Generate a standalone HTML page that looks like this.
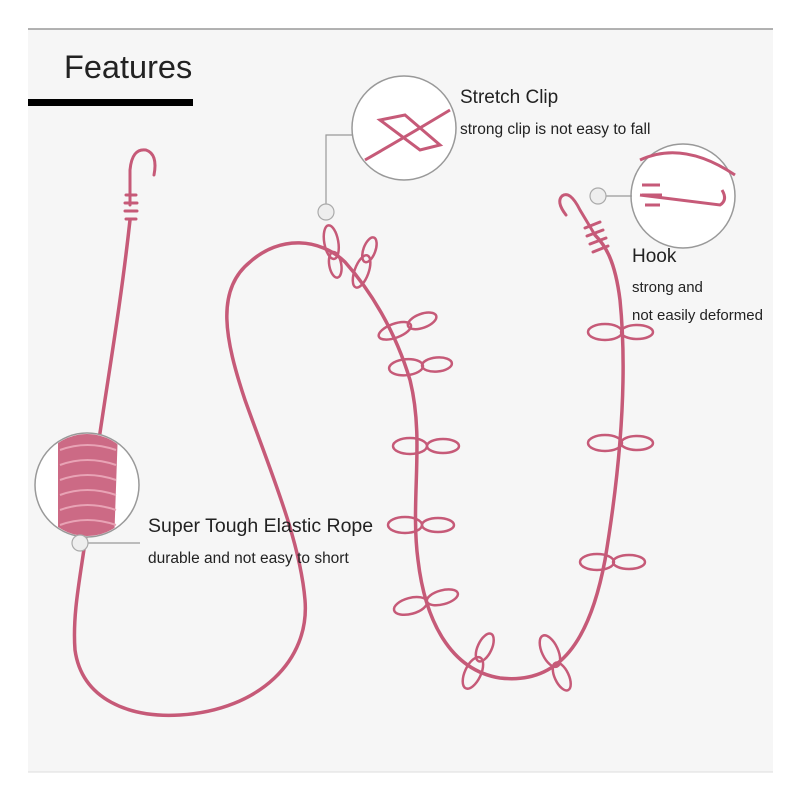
<!DOCTYPE html>
<html><head><meta charset="utf-8"><style>
body{margin:0;background:#fff}
svg{display:block}
text{font-family:"Liberation Sans",sans-serif;fill:#222}
</style></head><body>
<svg width="800" height="800" viewBox="0 0 800 800">
<defs><clipPath id="cl"><circle cx="87" cy="485" r="51"/></clipPath></defs>
<rect x="28" y="29" width="745" height="743" fill="#f6f6f6"/>
<line x1="28" y1="29" x2="773" y2="29" stroke="#999" stroke-width="1.5"/>
<line x1="28" y1="772" x2="773" y2="772" stroke="#ddd" stroke-width="1"/>
<text x="64" y="78" font-size="32.5">Features</text>
<rect x="28" y="99" width="165" height="7" fill="#000"/>
<g fill="none" stroke="#c65a78" stroke-linecap="round">
<path d="M130 205 L130 170 Q132 148 146 150 Q158 154 154 175" stroke-width="3"/>
<path d="M126 195 L136 195 M125 203 L137 203 M125 211 L137 211 M126 219 L136 219" stroke-width="3"/>
<path d="M130 220 C118 330 100 420 88 520 C82 570 72 610 75 650 C82 700 130 718 180 715 C260 710 310 660 305 600 C300 540 270 470 245 400 C225 340 215 290 250 262 C280 235 320 238 345 262 C370 290 395 330 410 380 C425 440 410 500 418 560 C425 620 450 670 500 678 C560 685 590 640 605 560 C620 470 628 380 620 300 C615 260 605 245 595 235" stroke-width="3.5"/>
<path d="M595 235 L580 210 Q570 190 562 196 Q556 202 566 215" stroke-width="3"/>
<path d="M585 228 L600 222 M587 236 L603 230 M590 244 L606 238 M593 252 L608 246" stroke-width="3"/>
<g stroke-width="2.5">
<g transform="translate(333,252) rotate(80)"><ellipse cx="-10" cy="0" rx="17" ry="7"/><ellipse cx="13" cy="0" rx="13" ry="6"/></g>
<g transform="translate(365,262) rotate(-70)"><ellipse cx="-10" cy="0" rx="17" ry="7"/><ellipse cx="13" cy="0" rx="13" ry="6"/></g>
<g transform="translate(408,326) rotate(-20)"><ellipse cx="-14" cy="0" rx="17" ry="7"/><ellipse cx="15" cy="0" rx="15" ry="7"/></g>
<g transform="translate(420,366) rotate(-5)"><ellipse cx="-14" cy="0" rx="17" ry="8"/><ellipse cx="17" cy="0" rx="15" ry="7"/></g>
<g transform="translate(425,446)"><ellipse cx="-15" cy="0" rx="17" ry="8"/><ellipse cx="18" cy="0" rx="16" ry="7"/></g>
<g transform="translate(420,525)"><ellipse cx="-15" cy="0" rx="17" ry="8"/><ellipse cx="18" cy="0" rx="16" ry="7"/></g>
<g transform="translate(425,602) rotate(-15)"><ellipse cx="-15" cy="0" rx="17" ry="8"/><ellipse cx="18" cy="0" rx="16" ry="7"/></g>
<g transform="translate(478,662) rotate(-65)"><ellipse cx="-12" cy="0" rx="17" ry="8"/><ellipse cx="16" cy="0" rx="15" ry="7"/></g>
<g transform="translate(555,662) rotate(65)"><ellipse cx="-12" cy="0" rx="17" ry="8"/><ellipse cx="16" cy="0" rx="15" ry="7"/></g>
<g transform="translate(620,332)"><ellipse cx="-15" cy="0" rx="17" ry="8"/><ellipse cx="17" cy="0" rx="16" ry="7"/></g>
<g transform="translate(620,443)"><ellipse cx="-15" cy="0" rx="17" ry="8"/><ellipse cx="17" cy="0" rx="16" ry="7"/></g>
<g transform="translate(612,562)"><ellipse cx="-15" cy="0" rx="17" ry="8"/><ellipse cx="17" cy="0" rx="16" ry="7"/></g>
</g>
</g>
<g stroke="#999" stroke-width="1.5" fill="#fff">
<circle cx="404" cy="128" r="52"/>
<circle cx="683" cy="196" r="52"/>
<circle cx="87" cy="485" r="52"/>
</g>
<g fill="none" stroke="#c65a78" stroke-width="3">
<path d="M365 160 Q400 140 450 110"/><path d="M380 120 L420 150 L440 145 L405 115 Z"/>
<path d="M640 160 Q683 140 735 175"/><path d="M640 195 L720 205 Q728 200 722 190"/><path d="M642 185 L660 185 M642 195 L662 195 M645 205 L660 205"/>
</g>
<g clip-path="url(#cl)">
<path d="M58 430 Q90 420 118 430 L114 545 Q87 550 58 545 Z" fill="#c65a78" opacity="0.9"/>
<g stroke="#e8a3b5" stroke-width="2" fill="none"><path d="M60 450 Q87 440 116 450 M60 465 Q87 455 116 465 M60 480 Q87 470 116 480 M60 495 Q87 485 116 495 M60 510 Q87 500 116 510 M60 525 Q87 515 116 525"/></g>
</g>
<g stroke="#999" stroke-width="1.2" fill="none">
<path d="M326 205 V135 H352"/>
<path d="M604 196 H632"/>
<path d="M88 543 H140"/>
</g>
<g fill="#eee" stroke="#aaa" stroke-width="1.2">
<circle cx="326" cy="212" r="8"/><circle cx="598" cy="196" r="8"/><circle cx="80" cy="543" r="8"/>
</g>
<text x="460" y="103" font-size="19">Stretch Clip</text>
<text x="460" y="134" font-size="15.5">strong clip is not easy to fall</text>
<text x="632" y="262" font-size="19">Hook</text>
<text x="632" y="292" font-size="15">strong and</text>
<text x="632" y="320" font-size="15">not easily deformed</text>
<text x="148" y="532" font-size="19.5">Super Tough Elastic Rope</text>
<text x="148" y="563" font-size="15.5">durable and not easy to short</text>
</svg>
</body></html>
